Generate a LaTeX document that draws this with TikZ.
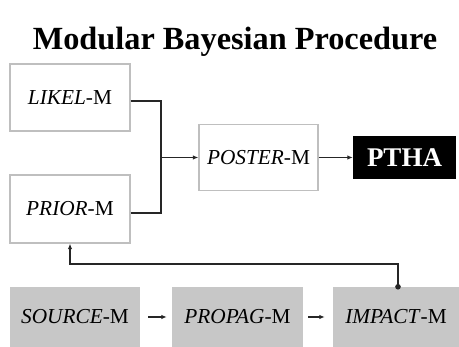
\documentclass[tikz,border=0pt]{standalone}
\usepackage{fontspec}
\setmainfont{Liberation Serif}
\usetikzlibrary{arrows.meta,calc}
\begin{document}
\begin{tikzpicture}[x=1pt,y=-1pt,
  wbox/.style={draw=black!25,line width=1.2pt,fill=white,inner sep=0pt,font=\fontsize{21.3}{23}\selectfont},
  gbox/.style={fill=black!22,inner sep=0pt,font=\fontsize{21.3}{23}\selectfont},
  conn/.style={draw=black!85,line width=1.5pt},
  arr/.style={conn,-{Latex[length=5.5pt,width=4.5pt]}}]
\useasboundingbox (0,0) rectangle (459,347);
\node[font=\bfseries\fontsize{32.3}{36}\selectfont] (title) at (235,42) {Modular Bayesian Procedure};
\node[wbox,minimum width=120pt,minimum height=67pt] (likel) at (70,97.5) {\textit{LIKEL}-M};
\node[wbox,minimum width=120pt,minimum height=68pt] (prior) at (70,209) {\textit{PRIOR}-M};
\node[wbox,minimum width=119pt,minimum height=66pt] (poster) at (258.5,157.5) {\textit{POSTER}-M};
\node[fill=black,text=white,inner sep=0pt,minimum width=103pt,minimum height=43pt,font=\bfseries\fontsize{27}{30}\selectfont] (ptha) at (404.5,157.5) {PTHA};
\node[gbox,minimum width=130pt,minimum height=60pt] (source) at (75,317) {\textit{SOURCE}-M};
\node[gbox,minimum width=131pt,minimum height=60pt] (propag) at (237.5,317) {\textit{PROPAG}-M};
\node[gbox,minimum width=126pt,minimum height=60pt] (impact) at (396,317) {\textit{IMPACT}-M};
\coordinate (j) at (161,157.5);
\draw[conn] ([yshift=-3.5pt]likel.east) -| (j);
\draw[conn] ([yshift=-4pt]prior.east) -| (j);
\draw[arr] (j) -- (poster.west);
\draw[arr] (poster.east) -- (ptha.west);
\draw[arr,shorten <=8pt,shorten >=5pt] (source) -- (propag);
\draw[arr,shorten <=5pt,shorten >=8pt] (propag) -- (impact);
\coordinate (fb) at ([xshift=2pt]impact.north);
\draw[arr] (fb) -- ++(0,-23) -| (prior.south);
\fill[black!85] (fb) circle (2.8pt);
\end{tikzpicture}
\end{document}
